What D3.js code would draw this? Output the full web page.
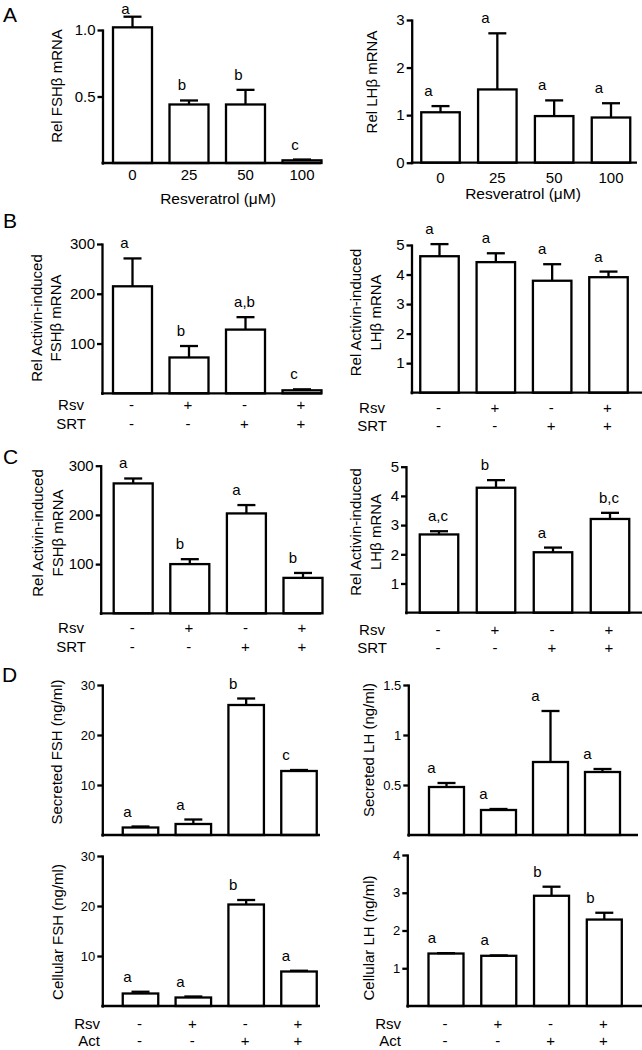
<!DOCTYPE html>
<html>
<head>
<meta charset="utf-8">
<script src="https://cdn.jsdelivr.net/npm/d3@7"></script>
<style>
  body { margin: 0; background: #fff; }
  text { font-family: "Liberation Sans", Arial, sans-serif; fill: #000; }
</style>
</head>
<body>
<div class="chart"></div>
<script>
// ---- data ----
var doses = ["0", "25", "50", "100"];
var rsv = ["-", "+", "-", "+"];
var srt = ["-", "-", "+", "+"];
var act = ["-", "-", "+", "+"];

// A: resveratrol dose response
var aFshMean = [1.02, 0.44, 0.44, 0.02];
var aFshErr = [0.08, 0.03, 0.11, 0.006];
var aFshLetters = ["a", "b", "b", "c"];
var aLhMean = [1.06, 1.54, 0.98, 0.95];
var aLhErr = [0.13, 1.18, 0.33, 0.30];
var aLhLetters = ["a", "a", "a", "a"];

// B: Rsv / SRT, activin induced
var bFshMean = [215, 72, 128, 6];
var bFshErr = [56, 23, 25, 2];
var bFshLetters = ["a", "b", "a,b", "c"];
var bLhMean = [4.62, 4.42, 3.79, 3.91];
var bLhErr = [0.41, 0.30, 0.56, 0.19];
var bLhLetters = ["a", "a", "a", "a"];

// C
var cFshMean = [264, 100, 203, 72];
var cFshErr = [10, 10, 17, 10];
var cFshLetters = ["a", "b", "a", "b"];
var cLhMean = [2.68, 4.28, 2.07, 3.21];
var cLhErr = [0.11, 0.26, 0.16, 0.21];
var cLhLetters = ["a,c", "b", "a", "b,c"];

// D: secreted and cellular hormone
var dSecFshMean = [1.5, 2.2, 26, 12.8];
var dSecFshErr = [0.2, 0.9, 1.3, 0.2];
var dSecFshLetters = ["a", "a", "b", "c"];
var dSecLhMean = [0.48, 0.25, 0.73, 0.63];
var dSecLhErr = [0.04, 0.01, 0.51, 0.03];
var dSecLhLetters = ["a", "a", "a", "a"];
var dCelFshMean = [2.5, 1.7, 20.3, 6.9];
var dCelFshErr = [0.35, 0.2, 0.9, 0.15];
var dCelFshLetters = ["a", "a", "b", "a"];
var dCelLhMean = [1.39, 1.33, 2.92, 2.29];
var dCelLhErr = [0.01, 0.01, 0.24, 0.18];
var dCelLhLetters = ["a", "a", "b", "b"];

var svgWidth = 642;
var svgHeight = 1050;

var svg = d3.select(".chart")
  .append("svg")
  .attr("width", svgWidth)
  .attr("height", svgHeight);

svg.append("rect")
  .attr("width", svgWidth)
  .attr("height", svgHeight)
  .attr("fill", "#fff");

var lineW = 2.3;

// panel layouts
var panels = [
  { mean: aFshMean, err: aFshErr, letters: aFshLetters, yMax: 1.0, ticks: [0.5, 1.0], fmt: d3.format(".1f"),
    axisX: 102.5, xEnd: 321, first: 132.5, last: 302, barW: 39, top: 30, bottom: 163,
    title: ["Rel FSHβ mRNA"], titleX: [62], titleY: 86, tickFont: 15, letterDx: -7,
    xTicks: doses, xTickY: 180, xTitle: "Resveratrol (μM)", xTitleX: 218, xTitleY: 204 },
  { mean: aLhMean, err: aLhErr, letters: aLhLetters, yMax: 3, ticks: [0, 1, 2, 3], fmt: d3.format("d"),
    axisX: 411.7, xEnd: 637, first: 440.5, last: 611, barW: 38.5, top: 20, bottom: 162.7,
    title: ["Rel LHβ mRNA"], titleX: [377], titleY: 82, tickFont: 15, letterDx: -12,
    xTicks: doses, xTickY: 183, xTitle: "Resveratrol (μM)", xTitleX: 523, xTitleY: 199 },
  { mean: bFshMean, err: bFshErr, letters: bFshLetters, yMax: 300, ticks: [100, 200, 300], fmt: d3.format("d"),
    axisX: 102, xEnd: 322, first: 132.5, last: 302, barW: 39, top: 244, bottom: 393.3,
    title: ["Rel Activin-induced", "FSHβ mRNA"], titleX: [42, 61], titleY: 318, tickFont: 15, letterDx: -8,
    rows: [{ label: "Rsv", vals: rsv, y: 405 }, { label: "SRT", vals: srt, y: 424 }], rowLabelX: 71, rowAnchor: "middle" },
  { mean: bLhMean, err: bLhErr, letters: bLhLetters, yMax: 5, ticks: [1, 2, 3, 4, 5], fmt: d3.format("d"),
    axisX: 411.5, xEnd: 642, first: 439.5, last: 608.5, barW: 38.5, top: 245, bottom: 392.7,
    title: ["Rel Activin-induced", "LHβ mRNA"], titleX: [361, 381], titleY: 312.5, tickFont: 15, letterDx: -10,
    rows: [{ label: "Rsv", vals: rsv, y: 408 }, { label: "SRT", vals: srt, y: 426 }], rowLabelX: 372, rowAnchor: "middle" },
  { mean: cFshMean, err: cFshErr, letters: cFshLetters, yMax: 300, ticks: [100, 200, 300], fmt: d3.format("d"),
    axisX: 100.7, xEnd: 321, first: 133.2, last: 303, barW: 39, top: 465.7, bottom: 613.3,
    title: ["Rel Activin-induced", "FSHβ mRNA"], titleX: [43, 63], titleY: 533, tickFont: 15, letterDx: -10,
    rows: [{ label: "Rsv", vals: rsv, y: 628 }, { label: "SRT", vals: srt, y: 647 }], rowLabelX: 71, rowAnchor: "middle" },
  { mean: cLhMean, err: cLhErr, letters: cLhLetters, yMax: 5, ticks: [1, 2, 3, 4, 5], fmt: d3.format("d"),
    axisX: 406, xEnd: 642, first: 439, last: 610, barW: 38.5, top: 466.7, bottom: 612.7,
    title: ["Rel Activin-induced", "LHβ mRNA"], titleX: [361, 381], titleY: 532, tickFont: 15, letterDx: -11,
    rows: [{ label: "Rsv", vals: rsv, y: 630 }, { label: "SRT", vals: srt, y: 648 }], rowLabelX: 372, rowAnchor: "middle" },
  { mean: dSecFshMean, err: dSecFshErr, letters: dSecFshLetters, yMax: 30, ticks: [10, 20, 30], fmt: d3.format("d"),
    axisX: 102.3, xEnd: 320, first: 140.5, last: 299, barW: 35.5, top: 685, bottom: 835,
    title: ["Secreted FSH (ng/ml)"], titleX: [62], titleY: 752, tickFont: 13, letterDx: -13 },
  { mean: dSecLhMean, err: dSecLhErr, letters: dSecLhLetters, yMax: 1.5, ticks: [0.5, 1, 1.5], fmt: function(d) { return String(d); },
    axisX: 408.3, xEnd: 638, first: 446.5, last: 602.5, barW: 35, top: 685, bottom: 835,
    title: ["Secreted LH (ng/ml)"], titleX: [374], titleY: 750, tickFont: 13, letterDx: -15 },
  { mean: dCelFshMean, err: dCelFshErr, letters: dCelFshLetters, yMax: 30, ticks: [10, 20, 30], fmt: d3.format("d"),
    axisX: 102.3, xEnd: 320, first: 140.5, last: 299, barW: 35.5, top: 856, bottom: 1006,
    title: ["Cellular FSH (ng/ml)"], titleX: [63], titleY: 932, tickFont: 13, letterDx: -13,
    rows: [{ label: "Rsv", vals: rsv, y: 1024 }, { label: "Act", vals: act, y: 1041 }], rowLabelX: 100, rowAnchor: "end" },
  { mean: dCelLhMean, err: dCelLhErr, letters: dCelLhLetters, yMax: 4, ticks: [1, 2, 3, 4], fmt: d3.format("d"),
    axisX: 407.3, xEnd: 642, first: 446, last: 604.3, barW: 35, top: 855, bottom: 1006,
    title: ["Cellular LH (ng/ml)"], titleX: [374], titleY: 938, tickFont: 13, letterDx: -14,
    rows: [{ label: "Rsv", vals: rsv, y: 1024 }, { label: "Act", vals: act, y: 1041 }], rowLabelX: 401, rowAnchor: "end" }
];

// panel letters
var panelLetters = [
  { t: "A", x: 3, y: 22 },
  { t: "B", x: 3, y: 228 },
  { t: "C", x: 3, y: 464 },
  { t: "D", x: 2, y: 682 }
];
svg.selectAll(".panel-letter")
  .data(panelLetters)
  .enter()
  .append("text")
  .attr("class", "panel-letter")
  .attr("x", function(d) { return d.x; })
  .attr("y", function(d) { return d.y; })
  .style("font-size", "21px")
  .text(function(d) { return d.t; });

panels.forEach(function(p) {
  var g = svg.append("g");
  var idx = d3.range(p.mean.length);

  var yScale = d3.scaleLinear().domain([0, p.yMax]).range([p.bottom, p.top]);
  var xScale = d3.scalePoint().domain(idx).range([p.first, p.last]);

  // y axis
  var leftAxis = d3.axisLeft(yScale)
    .tickValues(p.ticks)
    .tickFormat(p.fmt)
    .tickSize(5)
    .tickSizeOuter(0)
    .tickPadding(2);

  var ax = g.append("g")
    .attr("transform", "translate(" + p.axisX + ",0)")
    .call(leftAxis);
  ax.select(".domain").attr("stroke-width", lineW).attr("stroke-linecap", "square");
  ax.selectAll(".tick line").attr("stroke-width", lineW);
  ax.selectAll(".tick text")
    .style("font-family", "'Liberation Sans', Arial, sans-serif")
    .style("font-size", p.tickFont + "px");

  // bars
  g.selectAll(".bar")
    .data(idx)
    .enter()
    .append("rect")
    .attr("x", function(i) { return xScale(i) - p.barW / 2; })
    .attr("y", function(i) { return yScale(p.mean[i]); })
    .attr("width", p.barW)
    .attr("height", function(i) { return yScale(0) - yScale(p.mean[i]); })
    .attr("fill", "#fff")
    .attr("stroke", "#000")
    .attr("stroke-width", lineW);

  // error bars (upper only)
  g.selectAll(".err")
    .data(idx)
    .enter()
    .append("line")
    .attr("x1", function(i) { return xScale(i); })
    .attr("x2", function(i) { return xScale(i); })
    .attr("y1", function(i) { return yScale(p.mean[i]); })
    .attr("y2", function(i) { return yScale(p.mean[i] + p.err[i]); })
    .attr("stroke", "#000")
    .attr("stroke-width", lineW);

  g.selectAll(".cap")
    .data(idx)
    .enter()
    .append("line")
    .attr("x1", function(i) { return xScale(i) - 9; })
    .attr("x2", function(i) { return xScale(i) + 9; })
    .attr("y1", function(i) { return yScale(p.mean[i] + p.err[i]); })
    .attr("y2", function(i) { return yScale(p.mean[i] + p.err[i]); })
    .attr("stroke", "#000")
    .attr("stroke-width", lineW);

  // x axis baseline
  g.append("line")
    .attr("x1", p.axisX - 1)
    .attr("x2", p.xEnd)
    .attr("y1", yScale(0))
    .attr("y2", yScale(0))
    .attr("stroke", "#000")
    .attr("stroke-width", lineW);

  // significance letters (kept clear of the top edge)
  g.selectAll(".sig")
    .data(idx)
    .enter()
    .append("text")
    .attr("x", function(i) { return xScale(i) + (p.letters[i].length > 1 ? -1 : p.letterDx); })
    .attr("y", function(i) { return Math.max(14, yScale(p.mean[i] + p.err[i]) - 10); })
    .attr("text-anchor", "middle")
    .style("font-size", "15px")
    .text(function(i) { return p.letters[i]; });

  // y axis title (rotated)
  p.title.forEach(function(line, k) {
    g.append("text")
      .attr("transform", "translate(" + p.titleX[k] + "," + p.titleY + ") rotate(-90)")
      .attr("text-anchor", "middle")
      .style("font-size", "15px")
      .text(line);
  });

  // dose tick labels + x title
  if (p.xTicks) {
    g.selectAll(".xtick")
      .data(idx)
      .enter()
      .append("text")
      .attr("x", function(i) { return xScale(i); })
      .attr("y", p.xTickY)
      .attr("text-anchor", "middle")
      .style("font-size", "15px")
      .text(function(i) { return p.xTicks[i]; });

    g.append("text")
      .attr("x", p.xTitleX)
      .attr("y", p.xTitleY)
      .attr("text-anchor", "middle")
      .style("font-size", "15.5px")
      .text(p.xTitle);
  }

  // treatment rows (+ / -)
  if (p.rows) {
    p.rows.forEach(function(r) {
      g.append("text")
        .attr("x", p.rowLabelX)
        .attr("y", r.y + 5)
        .attr("text-anchor", p.rowAnchor)
        .style("font-size", "15px")
        .text(r.label);

      g.selectAll(".sign-" + r.label)
        .data(idx)
        .enter()
        .append("text")
        .attr("x", function(i) { return xScale(i) - 1; })
        .attr("y", r.y + 5)
        .attr("text-anchor", "middle")
        .style("font-size", "15px")
        .text(function(i) { return r.vals[i]; });
    });
  }
});
</script>
</body>
</html>
